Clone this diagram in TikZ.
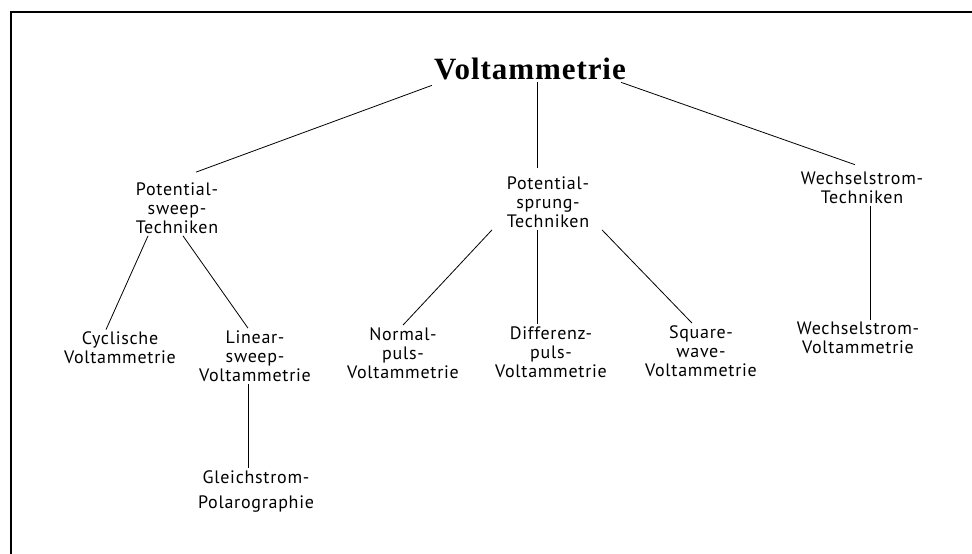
\documentclass[tikz,border=0pt]{standalone}
\usepackage{fontspec}
\setmainfont{PT Sans}[LetterSpace=4]
\newfontfamily\titlefont{Liberation Serif}[LetterSpace=3]
\usetikzlibrary{positioning}

\begin{document}
\begin{tikzpicture}[x=1pt,y=-1pt,line width=0.8pt,
	every node/.style={inner sep=2pt,align=center},
	method/.style={font=\fontsize{18}{19}\selectfont}]
		\useasboundingbox (0,0) rectangle (972,554);
		\draw[line width=2pt] (972,12) -- (11,12) -- (11,554);
		\node[font=\titlefont\bfseries\fontsize{31}{31}\selectfont] (volt) at (530,69) {Voltammetrie};
		\node[method] (psweep) at (177,208) {Potential-\\sweep-\\Techniken};
		\node[method] (psprung) at (548,202) {Potential-\\sprung-\\Techniken};
		\node[method] (wtech) at (862,188) {Wechselstrom-\\Techniken};
		\node[method] (cyc) at (120,348) {Cyclische\\Voltammetrie};
		\node[method] (linear) at (255,356) {Linear-\\sweep-\\Voltammetrie};
		\node[method,font=\fontsize{18}{25}\selectfont] (gleich) at (256,491) {Gleichstrom-\\Polarographie};
		\node[method] (normal) at (403,353) {Normal-\\puls-\\Voltammetrie};
		\node[method] (diff) at (551,352) {Differenz-\\puls-\\Voltammetrie};
		\node[method] (square) at (701,351) {Square-\\wave-\\Voltammetrie};
		\node[method] (wvolt) at (858,338) {Wechselstrom-\\Voltammetrie};
		\draw  ([yshift=-3pt]volt.south west) -- ([xshift=19pt,yshift=8pt]psweep.north);
		\draw  ([xshift=7pt]volt.south) -- ([xshift=-11pt,yshift=6pt]psprung.north);
		\draw  ([xshift=-7pt]volt.south east) -- ([xshift=-7pt,yshift=5pt]wtech.north);
		\draw  ([xshift=-29pt]psweep.south) -- ([xshift=-14pt]cyc.north);
		\draw  ([xshift=6pt]psweep.south) -- ([xshift=-7pt]linear.north);
		\draw  ([xshift=-56pt]psprung.south) -- (normal.north);
		\draw  ([xshift=-11pt]psprung.south) -- ([xshift=-14pt]diff.north);
		\draw  ([xshift=54pt]psprung.south) -- ([xshift=-9pt]square.north);
		\draw  ([xshift=8pt]wtech.south) -- ([xshift=12pt]wvolt.north);
		\draw  ([xshift=-7pt]linear.south) -- ([xshift=-8pt]gleich.north);
		\end{tikzpicture}
\end{document}
